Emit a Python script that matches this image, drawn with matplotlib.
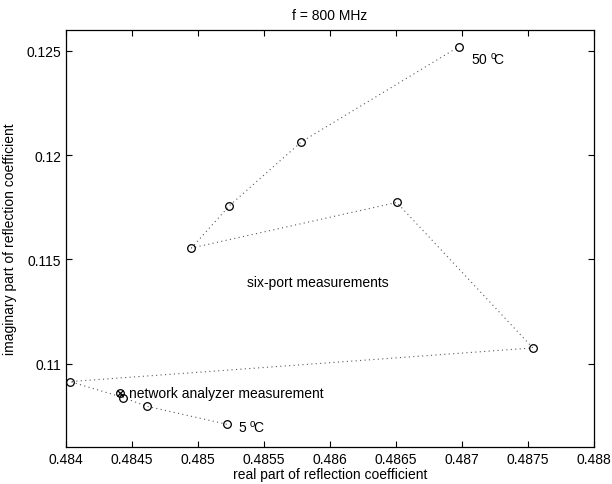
import matplotlib
matplotlib.use('Agg')
import matplotlib.pyplot as plt
import numpy as np

plt.rcParams['font.family'] = ['Liberation Sans', 'DejaVu Sans']
plt.rcParams['font.size'] = 10
plt.rcParams['mathtext.fontset'] = 'custom'
plt.rcParams['mathtext.rm'] = 'Liberation Sans'

# six-port measurements, in the order they are joined (5 C ... 50 C)
re_six = [0.485217, 0.484611, 0.484434, 0.484030, 0.487536,
          0.486505, 0.484950, 0.485237, 0.485783, 0.486977]
im_six = [0.107091, 0.107954, 0.108371, 0.109137, 0.110752,
          0.117730, 0.115545, 0.117572, 0.120639, 0.125206]

# network analyzer measurement
re_na = [0.484409]
im_na = [0.108596]

xticks = np.arange(0.484, 0.48801, 0.0005)
yticks = [0.11, 0.115, 0.12, 0.125]

fig = plt.figure(figsize=(6.12, 4.85), dpi=100)
ax = fig.add_axes([0.108, 0.0763, 0.8627, 0.8597])

ax.plot(re_six, im_six, linestyle=(0, (1, 3)), color='0.35', linewidth=0.8)
ax.plot(re_six, im_six, 'o', mfc='none', mec='k', ms=5.5, mew=0.9, linestyle='none')
ax.plot(re_na, im_na, 'o', mfc='none', mec='k', ms=5.5, mew=0.9)
ax.plot(re_na, im_na, 'x', color='k', ms=4.5, mew=0.9)

ax.text(0.48448, im_na[0], 'network analyzer measurement', va='center', ha='left')
ax.text(0.48537, 0.11391, 'six-port measurements', va='center', ha='left')

# temperature labels
ax.text(0.48530, 0.10698, r'5 $^{\mathrm{o}}\!$C', va='center', ha='left')
ax.text(0.487066, 0.12465, r'50 $^{\mathrm{o}}\!$C', va='center', ha='left')

ax.set_xlim(0.484, 0.488)
ax.set_ylim(0.106, 0.126)
ax.set_xticks(xticks)
ax.set_xticklabels(['%g' % round(t, 4) for t in xticks])
ax.set_yticks(yticks)
ax.set_yticklabels(['%g' % t for t in yticks])
ax.tick_params(direction='in', top=True, right=True, length=4, width=0.8)
for s in ax.spines.values():
    s.set_linewidth(0.9)

ax.set_xlabel('real part of reflection coefficient', labelpad=1)
ax.set_ylabel('imaginary part of reflection coefficient', labelpad=7)
ax.set_title('f = 800 MHz', fontsize=10, pad=8)

fig.savefig('out.png', dpi=100)
